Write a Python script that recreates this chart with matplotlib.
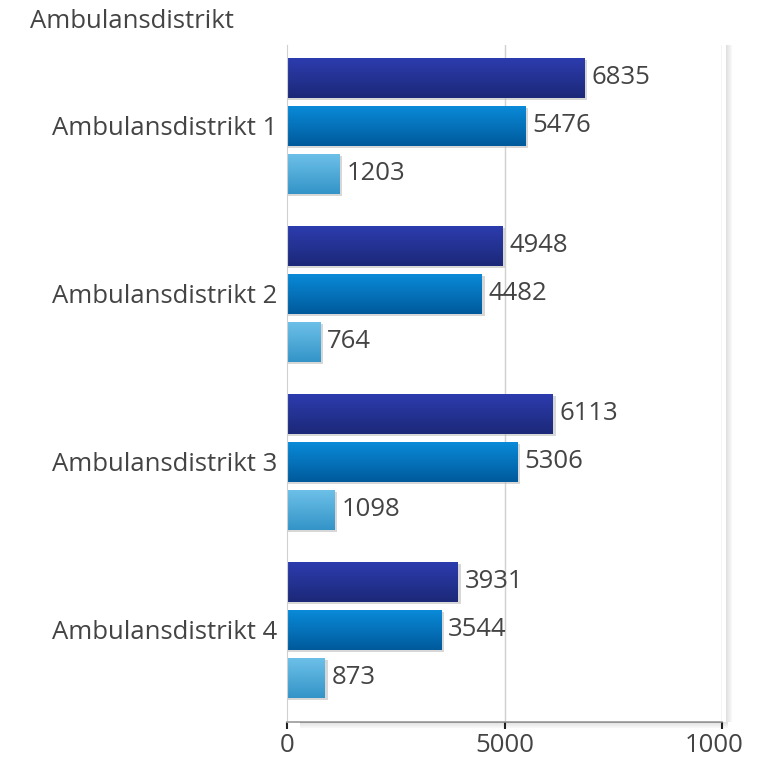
import numpy as np
import matplotlib
matplotlib.use("Agg")
import matplotlib.pyplot as plt
from matplotlib.colors import LinearSegmentedColormap
from matplotlib.transforms import Bbox

plt.rcParams['font.family'] = ['Open Sans', 'DejaVu Sans']

categories = ["Ambulansdistrikt 1", "Ambulansdistrikt 2", "Ambulansdistrikt 3", "Ambulansdistrikt 4"]
serie_a = [6835, 4948, 6113, 3931]
serie_b = [5476, 4482, 5306, 3544]
serie_c = [1203, 764, 1098, 873]
x_ticks = [0, 5000, 10000]

# top/bottom colours of each gradient
grad = [("#2c3cae", "#1c2878"), ("#0a8ad8", "#005a9c"), ("#6cc0e8", "#3494c8")]
txt = "#444444"
fs = 18.5

fig = plt.figure(figsize=(7.64, 7.57), dpi=100)
ax = fig.add_axes([287/764, 1 - 722/757, (722-287)/764, (722-45)/757])

pitch = 0.2857
h = 0.238
y = np.arange(len(categories))
series = [serie_a, serie_b, serie_c]

for k, vals in enumerate(series):
    cmap = LinearSegmentedColormap.from_list("g%d" % k, [grad[k][0], grad[k][1]])
    for i, v in enumerate(vals):
        yc = y[i] + (k - 1) * pitch
        # shadow
        ax.barh(yc + 0.012, v + 60, height=h, left=0, color="#bdbdbd", alpha=0.6, zorder=1, lw=0)
        ax.imshow(np.linspace(0, 1, 64).reshape(-1, 1), cmap=cmap, aspect='auto',
                  extent=[0, v, yc + h / 2, yc - h / 2], zorder=2, interpolation='bilinear')
        ax.text(v + 160, yc, str(v), va='center', ha='left', fontsize=fs, color=txt)

ax.set_xlim(0, 10000)
ax.set_ylim(3.55, -0.48)
ax.set_yticks(y)
ax.set_yticklabels(categories, fontsize=fs, color=txt)
ax.tick_params(axis='y', length=0, pad=7)
ax.set_xticks(x_ticks)
ax.set_xticklabels([str(t) for t in x_ticks], fontsize=fs, color=txt)
ax.tick_params(axis='x', length=5, width=1.5, color="#222222", pad=3)

for t in x_ticks[1:]:
    ax.axvline(t, color="#d0d0d0", lw=1, zorder=0)

ax.spines['top'].set_visible(False)
ax.spines['right'].set_visible(False)
ax.spines['left'].set_color("#d0d0d0")
ax.spines['bottom'].set_color("#9a9a9a")
ax.spines['bottom'].set_linewidth(1.2)

# shadow along right and bottom of plot area
for j in range(6):
    a = 0.12 - j * 0.018
    fig.patches.append(plt.Rectangle(((726 + j) / 764, 1 - 722 / 757), 1 / 764, (722 - 45) / 757,
                                     transform=fig.transFigure, color="black", alpha=a, lw=0))
    fig.patches.append(plt.Rectangle((300 / 764, 1 - (723 + j) / 757), (428 - 300 + 300) / 764, 1 / 757,
                                     transform=fig.transFigure, color="black", alpha=a, lw=0))

# clip the last tick label at the figure edge like the original
fig.canvas.draw()
for lab in ax.get_xticklabels():
    lab.set_clip_on(True)
    lab.set_clip_box(Bbox.from_extents(0, 0, 742, 757))

fig.text(30 / 764, 1 - 22 / 757, "Ambulansdistrikt", fontsize=fs, color=txt, va='center', ha='left')

fig.savefig("out.png", dpi=100)
